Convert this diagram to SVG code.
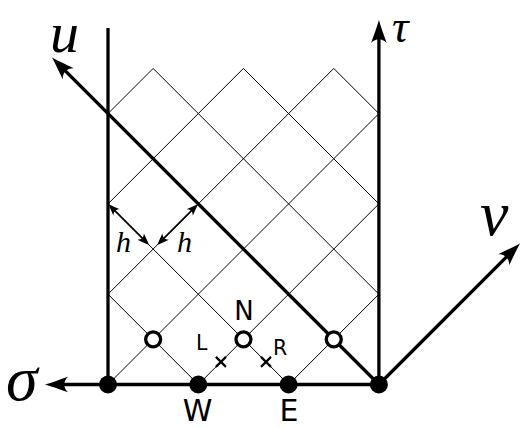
<svg xmlns="http://www.w3.org/2000/svg" width="523" height="428" viewBox="0 0 523 428">
<style>
.grid{stroke:#000;stroke-width:1;fill:none}
.thick{stroke:#000;stroke-width:3.3;fill:none}
.harr{stroke:#000;stroke-width:1.7;fill:none}
.math{font-family:"Liberation Serif","DejaVu Serif",serif;font-style:italic;fill:#000}
.lab{font-family:"DejaVu Sans","Liberation Sans",sans-serif;fill:#000}
.dot{fill:#000}
.open{fill:#fff;stroke:#000;stroke-width:3.3}
.cross{stroke:#000;stroke-width:2.2}
</style>
<defs>
<marker id="ah" markerUnits="userSpaceOnUse" markerWidth="40" markerHeight="40" viewBox="-20 -20 40 40" refX="0" refY="0" orient="auto" overflow="visible">
<path d="M10,0 C3,-2 -5,-5 -13,-7.8 C-8,-3 -8,3 -13,7.8 C-5,5 3,2 10,0 Z" fill="#000"/>
</marker>
<marker id="hs" markerUnits="userSpaceOnUse" markerWidth="30" markerHeight="30" viewBox="-15 -15 30 30" refX="0" refY="0" orient="auto" overflow="visible">
<path d="M4,0 C0,-1.5 -4,-3 -8,-4.5 C-5,-1.5 -5,1.5 -8,4.5 C-4,3 0,1.5 4,0 Z" fill="#000"/>
</marker>
<marker id="hsStart" markerUnits="userSpaceOnUse" markerWidth="30" markerHeight="30" viewBox="-15 -15 30 30" refX="0" refY="0" orient="auto-start-reverse" overflow="visible">
<path d="M4,0 C0,-1.5 -4,-3 -8,-4.5 C-5,-1.5 -5,1.5 -8,4.5 C-4,3 0,1.5 4,0 Z" fill="#000"/>
</marker>
</defs>

<g id="grid">
<line class="grid" x1="108" y1="113.6" x2="153.15" y2="68.45"/>
<line class="grid" x1="108" y1="203.9" x2="243.45" y2="68.45"/>
<line class="grid" x1="108" y1="294.2" x2="333.75" y2="68.45"/>
<line class="grid" x1="108" y1="384.5" x2="378.9" y2="113.6"/>
<line class="grid" x1="198.3" y1="384.5" x2="378.9" y2="203.9"/>
<line class="grid" x1="288.6" y1="384.5" x2="378.9" y2="294.2"/>
<line class="grid" x1="378.9" y1="384.5" x2="108" y2="113.6"/>
<line class="grid" x1="288.6" y1="384.5" x2="108" y2="203.9"/>
<line class="grid" x1="198.3" y1="384.5" x2="108" y2="294.2"/>
<line class="grid" x1="153.15" y1="68.45" x2="378.9" y2="294.2"/>
<line class="grid" x1="243.45" y1="68.45" x2="378.9" y2="203.9"/>
<line class="grid" x1="333.75" y1="68.45" x2="378.9" y2="113.6"/>
</g>

<g id="connectors">
<line id="wall" class="thick" x1="108" y1="384.5" x2="108" y2="28"/>
<line id="sigma-axis" class="thick" x1="378.9" y1="384.5" x2="55" y2="384.5" marker-end="url(#ah)"/>
<line id="tau-axis" class="thick" x1="378.9" y1="384.5" x2="378.9" y2="30" marker-end="url(#ah)"/>
<line id="u-axis" class="thick" x1="378.9" y1="384.5" x2="59.07" y2="64.67" marker-end="url(#ah)"/>
<line id="v-axis" class="thick" x1="378.9" y1="384.5" x2="512.93" y2="250.47" marker-end="url(#ah)"/>
<line id="h1" class="harr" x1="111" y1="206.9" x2="146.3" y2="242.2" marker-start="url(#hsStart)" marker-end="url(#hs)"/>
<line id="h2" class="harr" x1="195.3" y1="206.9" x2="160" y2="242.2" marker-start="url(#hsStart)" marker-end="url(#hs)"/>
<g id="crossL"><line class="cross" x1="215.9" y1="356.9" x2="225.9" y2="366.9"/><line class="cross" x1="215.9" y1="366.9" x2="225.9" y2="356.9"/></g>
<g id="crossR"><line class="cross" x1="261" y1="356.9" x2="271" y2="366.9"/><line class="cross" x1="261" y1="366.9" x2="271" y2="356.9"/></g>
</g>

<g id="node-corner-left"><circle class="dot" cx="108" cy="384.5" r="9"/></g>
<g id="node-W"><circle class="dot" cx="198.3" cy="384.5" r="9"/><text class="lab" x="197.5" y="421" font-size="30" text-anchor="middle">W</text></g>
<g id="node-E"><circle class="dot" cx="288.6" cy="384.5" r="9"/><text class="lab" x="289" y="421" font-size="30" text-anchor="middle">E</text></g>
<g id="node-origin"><circle class="dot" cx="378.9" cy="384.5" r="9"/></g>
<g id="node-open1"><circle class="open" cx="153.15" cy="339.35" r="7.5"/></g>
<g id="node-N"><circle class="open" cx="243.45" cy="339.35" r="7.5"/><text class="lab" x="244" y="320" font-size="26" text-anchor="middle">N</text></g>
<g id="node-open3"><circle class="open" cx="333.75" cy="339.35" r="7.5"/></g>

<g id="labels">
<text class="lab" x="196" y="350" font-size="20.5">L</text>
<text class="lab" x="273" y="355" font-size="20.5">R</text>
<text class="math" x="116" y="251.5" font-size="30">h</text>
<text class="math" x="177" y="251.5" font-size="30">h</text>
<text class="math" x="50" y="52" font-size="58">u</text>
<text class="math" x="392" y="41.5" font-size="46">τ</text>
<text class="math" x="480" y="235" font-size="64">v</text>
<text class="math" x="6" y="400" font-size="64">σ</text>
</g>
</svg>
